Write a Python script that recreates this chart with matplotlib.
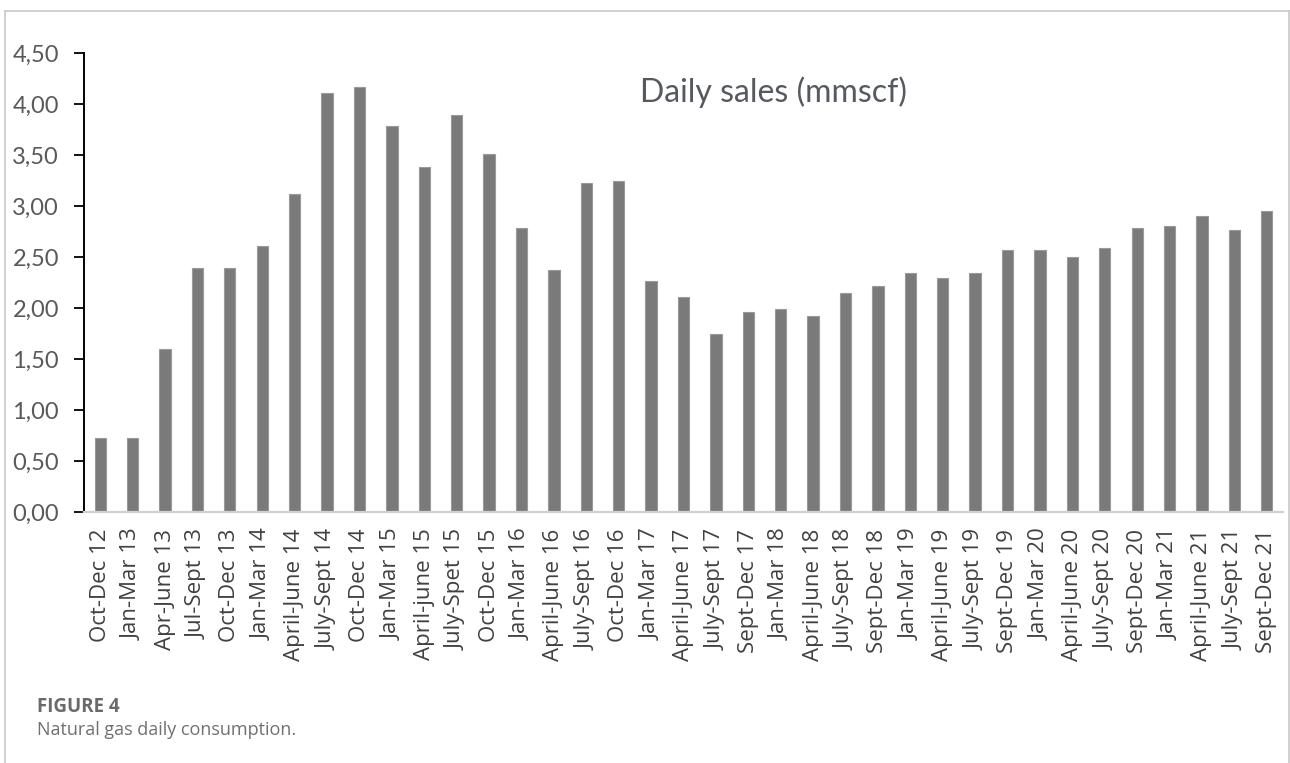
import matplotlib
matplotlib.use("Agg")
import matplotlib.pyplot as plt
from matplotlib.lines import Line2D

categories = [
    "Oct-Dec 12", "Jan-Mar 13", "Apr-June 13", "Jul-Sept 13", "Oct-Dec 13",
    "Jan-Mar 14", "April-June 14", "July-Sept 14", "Oct-Dec 14", "Jan-Mar 15",
    "April-june 15", "July-Spet 15", "Oct-Dec 15", "Jan-Mar 16", "April-June 16",
    "July-Sept 16", "Oct-Dec 16", "Jan-Mar 17", "April-June 17", "July-Sept 17",
    "Sept-Dec 17", "Jan-Mar 18", "April-June 18", "July-Sept 18", "Sept-Dec 18",
    "Jan-Mar 19", "April-June 19", "July-Sept 19", "Sept-Dec 19", "Jan-Mar 20",
    "April-June 20", "July-Sept 20", "Sept-Dec 20", "Jan-Mar 21", "April-June 21",
    "July-Sept 21", "Sept-Dec 21",
]
daily_sales = [
    0.73, 0.73, 1.60, 2.39, 2.39,
    2.61, 3.12, 4.11, 4.17, 3.78,
    3.38, 3.89, 3.51, 2.78, 2.37,
    3.23, 3.25, 2.26, 2.11, 1.75,
    1.96, 1.99, 1.92, 2.15, 2.22,
    2.34, 2.29, 2.34, 2.57, 2.57,
    2.50, 2.59, 2.78, 2.80, 2.90,
    2.76, 2.95,
]
y_ticks = [0.0, 0.5, 1.0, 1.5, 2.0, 2.5, 3.0, 3.5, 4.0, 4.5]
y_tick_labels = ["0,00", "0,50", "1,00", "1,50", "2,00", "2,50", "3,00", "3,50", "4,00", "4,50"]
title = "Daily sales (mmscf)"
fig_label = "FIGURE 4"
caption = "Natural gas daily consumption."

W, H = 1290, 763
fig = plt.figure(figsize=(W / 100, H / 100), dpi=100)
fig.patch.set_facecolor("white")

ax = fig.add_axes([84 / W, 1 - 512 / H, (1283 - 84) / W, (512 - 53) / H])
x = list(range(len(categories)))
ax.bar(x, daily_sales, width=0.35, color="#7a7a7a", edgecolor="#9a9a9a", linewidth=0.8, zorder=2)

ax.set_xlim(-0.5, len(categories) - 0.5)
ax.set_ylim(0, 4.5)
ax.set_yticks(y_ticks)
ax.set_yticklabels(y_tick_labels, fontfamily="Lato", fontsize=17, color="#595959")
ax.set_xticks(x)
ax.set_xticklabels(categories, rotation=90, fontfamily="Open Sans", fontsize=16, color="#404040")
ax.tick_params(axis="x", length=0, pad=12)
ax.tick_params(axis="y", length=7, width=1.3, color="black", pad=11, direction="out")

for s in ("top", "right"):
    ax.spines[s].set_visible(False)
ax.spines["left"].set_color("black")
ax.spines["left"].set_linewidth(1.4)
ax.spines["bottom"].set_color("#d0d0d0")
ax.spines["bottom"].set_linewidth(1.6)

fig.text(640 / W, 1 - 102 / H, title, fontfamily="Lato", fontsize=23, color="#555a60",
         ha="left", va="baseline")

# outer frame
frame_kw = dict(color="#c8c8c8", linewidth=1.2, transform=fig.transFigure)
fig.add_artist(Line2D([4.5 / W, 4.5 / W], [0, 1 - 10.5 / H], **frame_kw))
fig.add_artist(Line2D([4.5 / W, 1288.5 / W], [1 - 10.5 / H, 1 - 10.5 / H], **frame_kw))
fig.add_artist(Line2D([1288.5 / W, 1288.5 / W], [0, 1 - 10.5 / H], **frame_kw))

fig.text(37 / W, 1 - 712 / H, fig_label, fontfamily="Open Sans", fontweight="bold",
         fontsize=13.5, color="#6a6a6a", ha="left", va="baseline")
fig.text(37 / W, 1 - 735 / H, caption, fontfamily="Open Sans", fontsize=13,
         color="#707070", ha="left", va="baseline")

fig.savefig("out.png", dpi=100, facecolor="white")
